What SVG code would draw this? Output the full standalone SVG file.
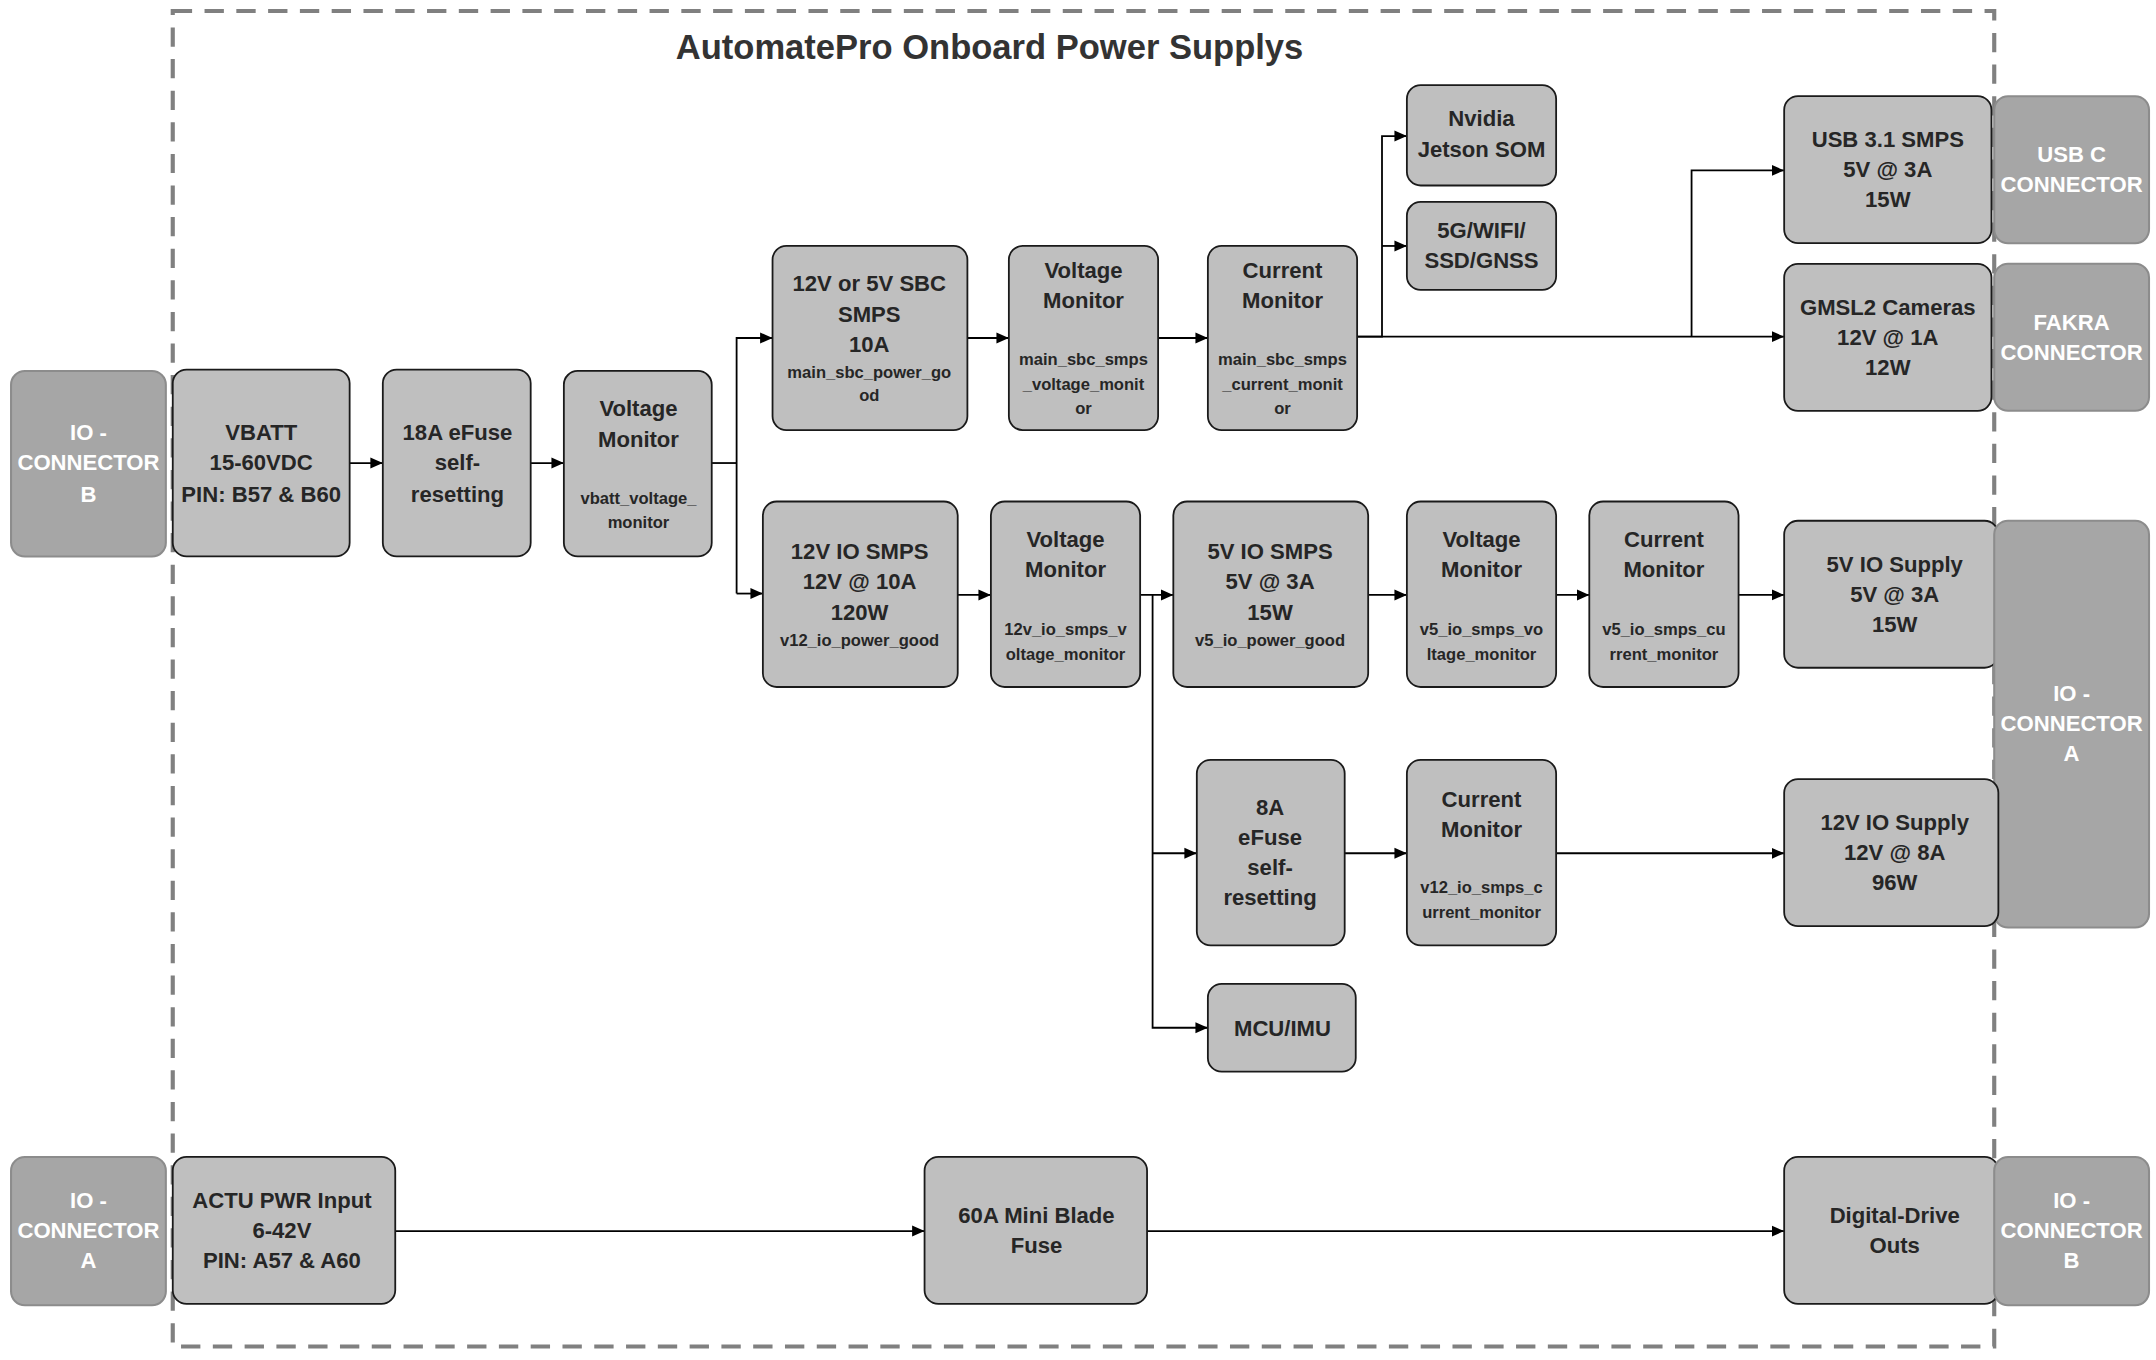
<svg xmlns="http://www.w3.org/2000/svg" width="2156" height="1360" viewBox="0 0 2156 1360">
<style>
.n{fill:#bfbfbf;stroke:#1a1a1a;stroke-width:1.3}
.c{fill:#a6a6a6;stroke:#8c8c8c;stroke-width:1.5}
text{font-family:"Liberation Sans Narrow","Liberation Sans",Arial,sans-serif;font-weight:bold;text-anchor:middle}
.t{font-size:16px;fill:#262626}
.s{font-size:12px;fill:#262626}
.w{font-size:16px;fill:#ffffff}
.e path,.e polyline,.e line{fill:none;stroke:#000;stroke-width:1.3}
</style>
<defs><marker id="a" markerWidth="10" markerHeight="10" refX="9" refY="5" orient="auto" markerUnits="userSpaceOnUse"><path d="M0,1 L9,5 L0,9 Z" fill="#000"/></marker></defs>
<rect width="2156" height="1360" fill="#fff"/>
<g transform="scale(1.382,1.374)">
<rect x="125" y="8" width="1318" height="972" fill="none" stroke="#808080" stroke-width="3" stroke-dasharray="14 9"/>
<text x="716" y="43" style="font-size:25px;fill:#333">AutomatePro Onboard Power Supplys</text>
<g class="e">
<line x1="253" y1="337" x2="277" y2="337" marker-end="url(#a)"/>
<line x1="384" y1="337" x2="408" y2="337" marker-end="url(#a)"/>
<polyline points="515,337 533,337"/>
<polyline points="533,432 533,246 559,246" marker-end="url(#a)"/>
<polyline points="533,432 552,432" marker-end="url(#a)"/>
<line x1="700" y1="246" x2="730" y2="246" marker-end="url(#a)"/>
<line x1="838" y1="246" x2="874" y2="246" marker-end="url(#a)"/>
<polyline points="982,245 1000,245 1000,99 1018,99" marker-end="url(#a)"/>
<polyline points="1000,179 1018,179" marker-end="url(#a)"/>
<line x1="982" y1="245" x2="1291" y2="245" marker-end="url(#a)"/>
<polyline points="1224,245 1224,124 1291,124" marker-end="url(#a)"/>
<line x1="693" y1="433" x2="717" y2="433" marker-end="url(#a)"/>
<line x1="825" y1="433" x2="849" y2="433" marker-end="url(#a)"/>
<polyline points="834,433 834,748 874,748" marker-end="url(#a)"/>
<polyline points="834,621 866,621" marker-end="url(#a)"/>
<line x1="990" y1="433" x2="1018" y2="433" marker-end="url(#a)"/>
<line x1="1126" y1="433" x2="1150" y2="433" marker-end="url(#a)"/>
<line x1="1258" y1="433" x2="1291" y2="433" marker-end="url(#a)"/>
<line x1="973" y1="621" x2="1018" y2="621" marker-end="url(#a)"/>
<line x1="1126" y1="621" x2="1291" y2="621" marker-end="url(#a)"/>
<line x1="286" y1="896" x2="669" y2="896" marker-end="url(#a)"/>
<line x1="830" y1="896" x2="1291" y2="896" marker-end="url(#a)"/>
</g>
<g id="ioB1"><rect class="c" x="8" y="270" width="112" height="135" rx="10"/><text class="w" x="64" y="320">IO -</text><text class="w" x="64" y="342">CONNECTOR</text><text class="w" x="64" y="365">B</text></g>
<g id="vbatt"><rect class="n" x="125" y="269" width="128" height="136" rx="10"/><text class="t" x="189" y="320">VBATT</text><text class="t" x="189" y="342">15-60VDC</text><text class="t" x="189" y="365">PIN: B57 &amp; B60</text></g>
<g id="efuse18"><rect class="n" x="277" y="269" width="107" height="136" rx="10"/><text class="t" x="331" y="320">18A eFuse</text><text class="t" x="331" y="342">self-</text><text class="t" x="331" y="365">resetting</text></g>
<g id="vmon1"><rect class="n" x="408" y="270" width="107" height="135" rx="10"/><text class="t" x="462" y="303">Voltage</text><text class="t" x="462" y="325">Monitor</text><text class="s" x="462" y="367">vbatt_voltage_</text><text class="s" x="462" y="384">monitor</text></g>
<g id="sbc"><rect class="n" x="559" y="179" width="141" height="134" rx="10"/><text class="t" x="629" y="212">12V or 5V SBC</text><text class="t" x="629" y="234">SMPS</text><text class="t" x="629" y="256">10A</text><text class="s" x="629" y="275">main_sbc_power_go</text><text class="s" x="629" y="292">od</text></g>
<g id="vmon2"><rect class="n" x="730" y="179" width="108" height="134" rx="10"/><text class="t" x="784" y="202">Voltage</text><text class="t" x="784" y="224">Monitor</text><text class="s" x="784" y="266">main_sbc_smps</text><text class="s" x="784" y="284">_voltage_monit</text><text class="s" x="784" y="301">or</text></g>
<g id="cmon1"><rect class="n" x="874" y="179" width="108" height="134" rx="10"/><text class="t" x="928" y="202">Current</text><text class="t" x="928" y="224">Monitor</text><text class="s" x="928" y="266">main_sbc_smps</text><text class="s" x="928" y="284">_current_monit</text><text class="s" x="928" y="301">or</text></g>
<g id="jetson"><rect class="n" x="1018" y="62" width="108" height="73" rx="10"/><text class="t" x="1072" y="92">Nvidia</text><text class="t" x="1072" y="114">Jetson SOM</text></g>
<g id="g5"><rect class="n" x="1018" y="147" width="108" height="64" rx="10"/><text class="t" x="1072" y="173">5G/WIFI/</text><text class="t" x="1072" y="195">SSD/GNSS</text></g>
<g id="usb"><rect class="n" x="1291" y="70" width="150" height="107" rx="10"/><text class="t" x="1366" y="107">USB 3.1 SMPS</text><text class="t" x="1366" y="129">5V @ 3A</text><text class="t" x="1366" y="151">15W</text></g>
<g id="gmsl"><rect class="n" x="1291" y="192" width="150" height="107" rx="10"/><text class="t" x="1366" y="229">GMSL2 Cameras</text><text class="t" x="1366" y="251">12V @ 1A</text><text class="t" x="1366" y="273">12W</text></g>
<g id="usbc"><rect class="c" x="1443" y="70" width="112" height="107" rx="10"/><text class="w" x="1499" y="118">USB C</text><text class="w" x="1499" y="140">CONNECTOR</text></g>
<g id="fakra"><rect class="c" x="1443" y="192" width="112" height="107" rx="10"/><text class="w" x="1499" y="240">FAKRA</text><text class="w" x="1499" y="262">CONNECTOR</text></g>
<g id="io12"><rect class="n" x="552" y="365" width="141" height="135" rx="10"/><text class="t" x="622" y="407">12V IO SMPS</text><text class="t" x="622" y="429">12V @ 10A</text><text class="t" x="622" y="451">120W</text><text class="s" x="622" y="470">v12_io_power_good</text></g>
<g id="vmon3"><rect class="n" x="717" y="365" width="108" height="135" rx="10"/><text class="t" x="771" y="398">Voltage</text><text class="t" x="771" y="420">Monitor</text><text class="s" x="771" y="462">12v_io_smps_v</text><text class="s" x="771" y="480">oltage_monitor</text></g>
<g id="io5"><rect class="n" x="849" y="365" width="141" height="135" rx="10"/><text class="t" x="919" y="407">5V IO SMPS</text><text class="t" x="919" y="429">5V @ 3A</text><text class="t" x="919" y="451">15W</text><text class="s" x="919" y="470">v5_io_power_good</text></g>
<g id="vmon4"><rect class="n" x="1018" y="365" width="108" height="135" rx="10"/><text class="t" x="1072" y="398">Voltage</text><text class="t" x="1072" y="420">Monitor</text><text class="s" x="1072" y="462">v5_io_smps_vo</text><text class="s" x="1072" y="480">ltage_monitor</text></g>
<g id="cmon2"><rect class="n" x="1150" y="365" width="108" height="135" rx="10"/><text class="t" x="1204" y="398">Current</text><text class="t" x="1204" y="420">Monitor</text><text class="s" x="1204" y="462">v5_io_smps_cu</text><text class="s" x="1204" y="480">rrent_monitor</text></g>
<g id="sup5"><rect class="n" x="1291" y="379" width="155" height="107" rx="10"/><text class="t" x="1371" y="416">5V IO Supply</text><text class="t" x="1371" y="438">5V @ 3A</text><text class="t" x="1371" y="460">15W</text></g>
<g id="ioA1"><rect class="c" x="1443" y="379" width="112" height="296" rx="10"/><text class="w" x="1499" y="510">IO -</text><text class="w" x="1499" y="532">CONNECTOR</text><text class="w" x="1499" y="554">A</text></g>
<g id="efuse8"><rect class="n" x="866" y="553" width="107" height="135" rx="10"/><text class="t" x="919" y="593">8A</text><text class="t" x="919" y="615">eFuse</text><text class="t" x="919" y="637">self-</text><text class="t" x="919" y="659">resetting</text></g>
<g id="cmon3"><rect class="n" x="1018" y="553" width="108" height="135" rx="10"/><text class="t" x="1072" y="587">Current</text><text class="t" x="1072" y="609">Monitor</text><text class="s" x="1072" y="650">v12_io_smps_c</text><text class="s" x="1072" y="668">urrent_monitor</text></g>
<g id="sup12"><rect class="n" x="1291" y="567" width="155" height="107" rx="10"/><text class="t" x="1371" y="604">12V IO Supply</text><text class="t" x="1371" y="626">12V @ 8A</text><text class="t" x="1371" y="648">96W</text></g>
<g id="mcu"><rect class="n" x="874" y="716" width="107" height="64" rx="10"/><text class="t" x="928" y="754">MCU/IMU</text></g>
<g id="ioA2"><rect class="c" x="8" y="842" width="112" height="108" rx="10"/><text class="w" x="64" y="879">IO -</text><text class="w" x="64" y="901">CONNECTOR</text><text class="w" x="64" y="923">A</text></g>
<g id="actu"><rect class="n" x="125" y="842" width="161" height="107" rx="10"/><text class="t" x="204" y="879">ACTU PWR Input</text><text class="t" x="204" y="901">6-42V</text><text class="t" x="204" y="923">PIN: A57 &amp; A60</text></g>
<g id="fuse60"><rect class="n" x="669" y="842" width="161" height="107" rx="10"/><text class="t" x="750" y="890">60A Mini Blade</text><text class="t" x="750" y="912">Fuse</text></g>
<g id="dd"><rect class="n" x="1291" y="842" width="155" height="107" rx="10"/><text class="t" x="1371" y="890">Digital-Drive</text><text class="t" x="1371" y="912">Outs</text></g>
<g id="ioB2"><rect class="c" x="1443" y="842" width="112" height="108" rx="10"/><text class="w" x="1499" y="879">IO -</text><text class="w" x="1499" y="901">CONNECTOR</text><text class="w" x="1499" y="923">B</text></g>
</g>
</svg>
